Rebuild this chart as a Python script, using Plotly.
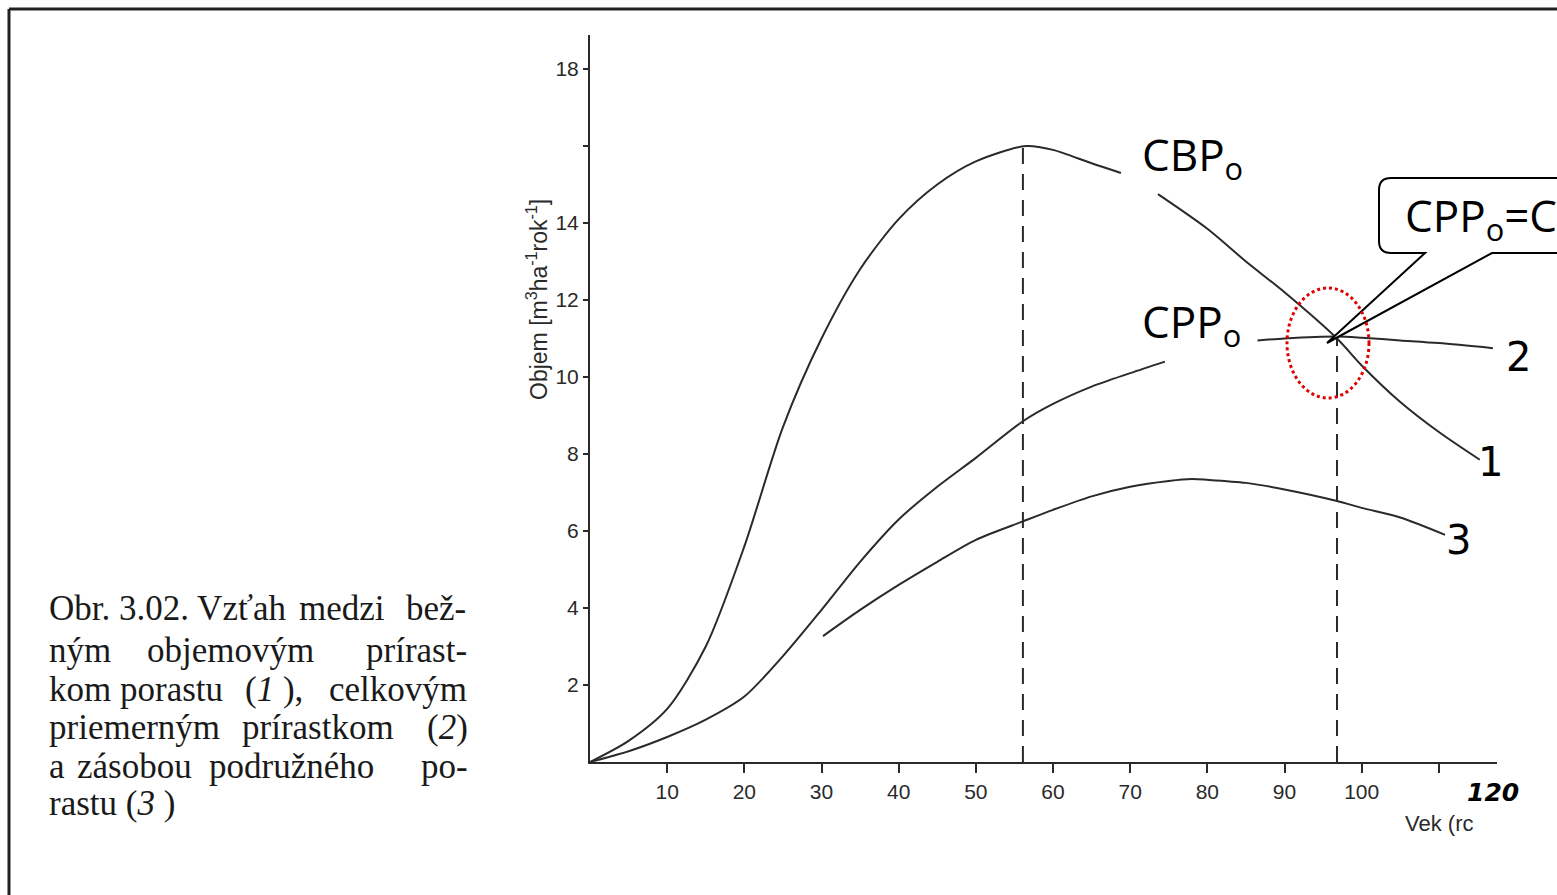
import plotly.graph_objects as go

W, H = 1557, 895

# ---- data ----
# curve 1: current volume increment (CBPo); None = gap under label
age_1 = [0, 5, 10, 15, 20, 25, 30, 35, 40, 45, 50, 56.5, 60, 65, 68.8,
         None, 73.6, 80, 85, 90, 96.8, 100, 105, 110, 115.3]
vol_1 = [0, 0.55, 1.38, 3.0, 5.6, 8.7, 11.0, 12.8, 14.1, 15.0, 15.6, 16.0, 15.9, 15.55, 15.3,
         None, 14.75, 13.85, 13.0, 12.2, 11.0, 10.3, 9.35, 8.57, 7.85]
# curve 2: total mean increment (CPPo)
age_2 = [0, 5, 10, 15, 20, 25, 30, 35, 40, 45, 50, 56.1, 60, 65, 70, 74.5,
         None, 86.5, 90, 96.8, 100, 105, 110, 117]
vol_2 = [0, 0.28, 0.65, 1.1, 1.7, 2.75, 3.95, 5.2, 6.3, 7.15, 7.9, 8.85, 9.3, 9.75, 10.1, 10.4,
         None, 10.95, 11.0, 11.05, 11.02, 10.95, 10.88, 10.75]
# curve 3: growing stock of secondary stand
age_3 = [30.2, 35, 40, 45, 50, 56.1, 60, 65, 70, 75, 78, 80, 85, 90, 96.8, 100, 105, 110.8]
vol_3 = [3.27, 3.95, 4.6, 5.2, 5.77, 6.25, 6.55, 6.9, 7.15, 7.3, 7.35, 7.33, 7.25, 7.08, 6.78, 6.6, 6.35, 5.9]

peak_age, peak_vol = 56.1, 16.0
cross_age, cross_vol = 96.8, 11.0

x_ticks = [10, 20, 30, 40, 50, 60, 70, 80, 90, 100, 110]
x_tick_text = ["10", "20", "30", "40", "50", "60", "70", "80", "90", "100", ""]
y_ticks = [2, 4, 6, 8, 10, 12, 14, 16, 18]
y_tick_text = ["2", "4", "6", "8", "10", "12", "14", "", "18"]

# caption words: (text, left x or right x, anchor)
caption_lines = [
    [("Obr. 3.02. Vzťah", 47, "left"), ("medzi", 297, "left"), ("bež-", 468, "right")],
    [("ným", 47, "left"), ("objemovým", 145, "left"), ("prírast-", 469, "right")],
    [("kom porastu", 47, "left"), ("(<i>1</i> ),", 243, "left"), ("celkovým", 469, "right")],
    [("priemerným", 47, "left"), ("prírastkom", 240, "left"), ("(<i>2</i>)", 470, "right")],
    [("a", 47, "left"), ("zásobou", 75, "left"), ("podružného", 207, "left"), ("po-", 470, "right")],
    [("rastu (<i>3</i> )", 47, "left")],
]
caption_y = [608, 650, 689, 727, 766, 803]

INK = "#2a2a2a"


def px(x):
    return x / W


def py(y):
    return 1 - y / H


fig = go.Figure()

line_style = dict(color=INK, width=2, shape="spline", smoothing=0.8)
fig.add_trace(go.Scatter(x=age_1, y=vol_1, mode="lines", line=line_style, connectgaps=False, cliponaxis=False))
fig.add_trace(go.Scatter(x=age_2, y=vol_2, mode="lines", line=line_style, connectgaps=False, cliponaxis=False))
fig.add_trace(go.Scatter(x=age_3, y=vol_3, mode="lines", line=line_style, cliponaxis=False))

dash_style = dict(color=INK, width=2, dash="16px,10px")
fig.add_trace(go.Scatter(x=[peak_age, peak_age], y=[0, peak_vol], mode="lines", line=dash_style))
fig.add_trace(go.Scatter(x=[cross_age, cross_age], y=[0, cross_vol], mode="lines", line=dash_style))

shapes = []
# page frame (left and top)
shapes.append(dict(type="line", xref="paper", yref="paper", x0=px(9), x1=px(9), y0=py(9), y1=py(H + 5),
                   line=dict(color="#222", width=3)))
shapes.append(dict(type="line", xref="paper", yref="paper", x0=px(9), x1=px(W + 5), y0=py(9), y1=py(9),
                   line=dict(color="#222", width=3)))

# callout box with pointer
pts = [
    ("M", 1425, 253), ("L", 1391, 253), ("Q", 1379, 253, 1379, 241), ("L", 1379, 190),
    ("Q", 1379, 178, 1391, 178), ("L", 1600, 178), ("L", 1600, 253), ("L", 1492, 253),
    ("L", 1327, 343), ("Z",),
]
path = ""
for p in pts:
    if p[0] == "Z":
        path += " Z"
    elif p[0] == "Q":
        path += f" Q {px(p[1])},{py(p[2])} {px(p[3])},{py(p[4])}"
    else:
        path += f" {p[0]} {px(p[1])},{py(p[2])}"
shapes.append(dict(type="path", xref="paper", yref="paper", path=path.strip(),
                   fillcolor="white", line=dict(color="black", width=2), layer="above"))

# red dotted ellipse
shapes.append(dict(type="circle", xref="paper", yref="paper", x0=px(1287), x1=px(1369), y0=py(398), y1=py(288),
                   line=dict(color="#e00000", width=3, dash="dot"), layer="above"))

ann = []


def text(t, x, y, font, xanchor="center", yanchor="middle", **kw):
    ann.append(dict(text=t, xref="paper", yref="paper", x=px(x), y=py(y), xanchor=xanchor,
                    yanchor=yanchor, showarrow=False, font=font, **kw))


label_font = dict(family="Open Sans, DejaVu Sans, sans-serif", size=44, color="black")
text("CBP<sub>o</sub>", 1140, 157, label_font, xanchor="left")
text("CPP<sub>o</sub>", 1140, 323, label_font, xanchor="left")
text("CPP<sub>o</sub>=CBP<sub>o</sub>", 1403, 217, label_font, xanchor="left")

hand_font = dict(family="DejaVu Sans, sans-serif", size=40, color="black")
text("1", 1490, 462, hand_font)
text("2", 1518, 357, hand_font)
text("3", 1458, 540, hand_font)
text("<b><i>120</i></b>", 1493, 792, dict(family="DejaVu Sans, sans-serif", size=25, color="black"))
text("Vek (rc", 1403, 823, dict(family="Liberation Sans, Arial, sans-serif", size=22, color=INK), xanchor="left")
text("Objem [m<sup>3</sup>ha<sup>-1</sup>rok<sup>-1</sup>]", 537, 300,
     dict(family="Liberation Sans, Arial, sans-serif", size=23, color=INK), textangle=-90)

cap_font = dict(family="Liberation Serif, Times New Roman, serif", size=35, color="#1a1a1a")
for words, yy in zip(caption_lines, caption_y):
    for t, xx, anc in words:
        text(t, xx, yy, cap_font, xanchor=anc)

tick_font = dict(family="Liberation Sans, Arial, sans-serif", size=21, color=INK)
fig.update_layout(
    width=W, height=H,
    margin=dict(l=0, r=0, t=0, b=0),
    paper_bgcolor="white", plot_bgcolor="white",
    showlegend=False,
    shapes=shapes, annotations=ann,
    xaxis=dict(domain=[590 / W, 1497 / W], range=[0, (1497 - 590) / 7.717],
               showgrid=False, zeroline=False, showline=True, linecolor=INK, linewidth=2,
               ticks="outside", ticklen=9, tickwidth=2, tickcolor=INK,
               tickvals=x_ticks, ticktext=x_tick_text, tickfont=tick_font, ticklabelstandoff=1),
    yaxis=dict(domain=[1 - 762 / H, 1 - 35 / H], range=[0, (762 - 35) / 38.5],
               showgrid=False, zeroline=False, showline=True, linecolor=INK, linewidth=2,
               ticks="outside", ticklen=5, tickwidth=2, tickcolor=INK,
               tickvals=y_ticks, ticktext=y_tick_text, tickfont=tick_font, ticklabelstandoff=0),
)

fig.write_html("out.html")
